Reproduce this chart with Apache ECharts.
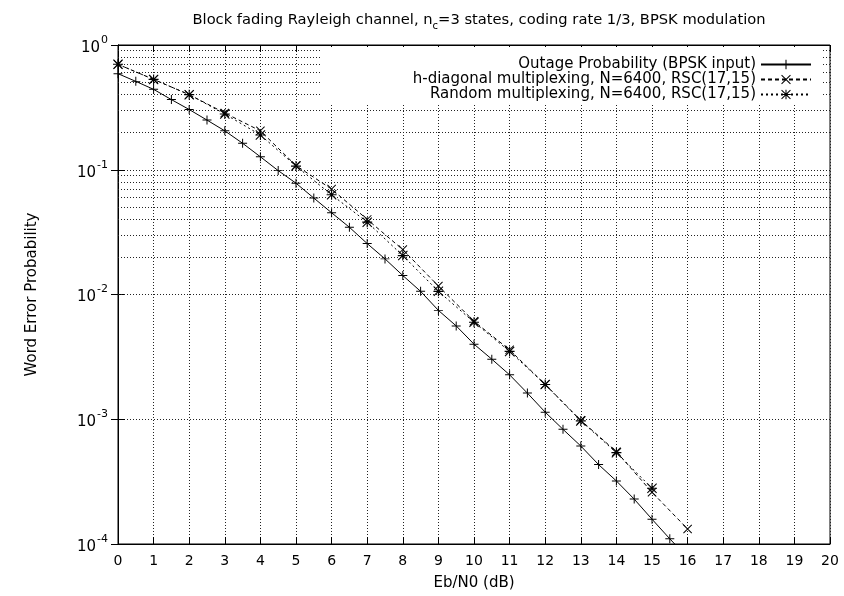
<!DOCTYPE html>
<html>
<head>
<meta charset="utf-8">
<script src="https://cdn.jsdelivr.net/npm/echarts@6/dist/echarts.min.js"></script>
<style>html,body{margin:0;padding:0;background:#fff}#c{width:844px;height:596px}</style>
</head>
<body>
<div id="c"></div>
<script>
// ---- data ----
var outageX = [0,0.5,1,1.5,2,2.5,3,3.5,4,4.5,5,5.5,6,6.5,7,7.5,8,8.5,9,9.5,10,10.5,11,11.5,12,12.5,13,13.5,14,14.5,15,15.5,16];
var outageY = [0.589,0.511,0.441,0.365,0.304,0.250,0.205,0.163,0.127,0.0984,0.078,0.0593,0.0452,0.0346,0.0256,0.0193,0.0142,0.0106,0.00746,0.0056,0.0040,0.00303,0.00227,0.00162,0.00114,0.00083,0.00061,0.000433,0.00032,0.000229,0.000158,0.00011,0.000078];
var hdiagX = [0,1,2,3,4,5,6,7,8,9,10,11,12,13,14,15,16];
var hdiagY = [0.70,0.53,0.40,0.285,0.205,0.108,0.070,0.040,0.0229,0.0117,0.0061,0.0036,0.0019,0.00098,0.00055,0.00026,0.000132];
var randX = [0,1,2,3,4,5,6,7,8,9,10,11,12,13,14,15];
var randY = [0.70,0.53,0.40,0.28,0.19,0.107,0.063,0.038,0.0205,0.0106,0.0060,0.0035,0.0019,0.00097,0.00054,0.00028];
var seriesNames = ['Outage Probability (BPSK input)','h-diagonal multiplexing, N=6400, RSC(17,15)','Random multiplexing, N=6400, RSC(17,15)'];
var decades = [0.0001,0.001,0.01,0.1];
var mantissas = [2,3,4,5,6,7,8,9];
var xTitle = 'Eb/N0 (dB)';
var yTitle = 'Word Error Probability';

function pairs(xs, ys){ return xs.map(function(x,i){ return [x, ys[i]]; }); }
var minorLines = [];
decades.forEach(function(d){ mantissas.forEach(function(m){ minorLines.push({yAxis: +(d*m).toPrecision(3)}); }); });

var FONT = 'DejaVu Sans';
var plusSym = 'path://M0,4.45H10V5.55H0Z M4.45,0H5.55V10H4.45Z';
var crossSym = 'path://M0,0.75L0.75,0L10,9.25L9.25,10Z M9.25,0L10,0.75L0.75,10L0,9.25Z';
var starSym = 'path://M0,4.45H10V5.55H0Z M4.45,0H5.55V10H4.45Z M0,0.75L0.75,0L10,9.25L9.25,10Z M9.25,0L10,0.75L0.75,10L0,9.25Z';
var gridDot = {color:'#222', width:1, type:[1,2]};

var chart = echarts.init(document.getElementById('c'), null, {renderer:'canvas'});
chart.setOption({
  animation:false,
  backgroundColor:'#fff',
  textStyle:{fontFamily:FONT},
  title:{
    text:'{a|Block fading Rayleigh channel, n}{s|c}{a|=3 states, coding rate 1/3, BPSK modulation}',
    left:474, top:8, textAlign:'center',
    textStyle:{
      fontWeight:'normal',
      rich:{
        a:{fontFamily:FONT, fontSize:14.7, fontWeight:'normal', color:'#000', lineHeight:16, verticalAlign:'top'},
        s:{fontFamily:FONT, fontSize:10, fontWeight:'normal', color:'#000', lineHeight:10, padding:[8,0,0,0], verticalAlign:'top'}
      }
    }
  },
  grid:{left:118, right:14, top:45, bottom:50, show:true, borderColor:'#000', borderWidth:1, containLabel:false},
  legend:{
    orient:'vertical', right:23, top:47, align:'right',
    backgroundColor:'#fff', padding:[10,9,1,6],
    itemWidth:50, itemHeight:12, itemGap:0,
    textStyle:{fontFamily:FONT, fontSize:15, color:'#000', lineHeight:15, width:428},
    data:seriesNames
  },
  xAxis:[{
    type:'value', min:0, max:20, interval:1, position:'bottom',
    name:xTitle, nameLocation:'middle', nameGap:32,
    nameTextStyle:{fontFamily:FONT, fontSize:15, color:'#000'},
    axisLine:{show:true, lineStyle:{color:'#000'}},
    axisTick:{show:true, inside:true, length:7, lineStyle:{color:'#000'}},
    axisLabel:{fontFamily:FONT, fontSize:14, color:'#000', margin:10},
    splitLine:{show:true, lineStyle:gridDot}
  },{
    type:'value', min:0, max:20, interval:1, position:'top',
    axisLine:{show:true, lineStyle:{color:'#000'}},
    axisTick:{show:true, inside:true, length:7, lineStyle:{color:'#000'}},
    axisLabel:{show:false}, splitLine:{show:false}
  }],
  yAxis:[{
    type:'log', logBase:10, min:0.0001, max:1, position:'left',
    name:yTitle, nameLocation:'middle', nameGap:78,
    nameTextStyle:{fontFamily:FONT, fontSize:15, color:'#000'},
    axisLine:{show:true, lineStyle:{color:'#000'}},
    axisTick:{show:true, inside:true, length:7, lineStyle:{color:'#000'}},
    axisLabel:{
      margin:10, color:'#000',
      formatter:function(v){ var e = Math.round(Math.log10(v)); return '{b|10}{s|' + (e<0?'-':'') + Math.abs(e) + '}'; },
      rich:{
        b:{fontFamily:FONT, fontSize:15, color:'#000', lineHeight:21, verticalAlign:'bottom'},
        s:{fontFamily:FONT, fontSize:11, color:'#000', lineHeight:11, padding:[0,0,0,1], verticalAlign:'top'}
      }
    },
    splitLine:{show:true, lineStyle:gridDot}
  },{
    type:'log', logBase:10, min:0.0001, max:1, position:'right',
    axisLine:{show:true, lineStyle:{color:'#000'}},
    axisTick:{show:true, inside:true, length:7, lineStyle:{color:'#000'}},
    axisLabel:{show:false}, splitLine:{show:false}
  }],
  series:[{
    name:seriesNames[0], type:'line', data:pairs(outageX, outageY),
    symbol:plusSym, symbolSize:9, showAllSymbol:true,
    lineStyle:{color:'#000', width:1, type:'solid'},
    itemStyle:{color:'#000'},
    z:3,
    markLine:{
      silent:true, symbol:['none','none'], label:{show:false},
      lineStyle:{color:'#222', width:1, type:[1,2]},
      emphasis:{disabled:true},
      data:minorLines, z:1
    }
  },{
    name:seriesNames[1], type:'line', data:pairs(hdiagX, hdiagY),
    symbol:crossSym, symbolSize:9, showAllSymbol:true,
    lineStyle:{color:'#000', width:1, type:[4,3]},
    itemStyle:{color:'#000'}, z:3
  },{
    name:seriesNames[2], type:'line', data:pairs(randX, randY),
    symbol:starSym, symbolSize:10, showAllSymbol:true,
    lineStyle:{color:'#000', width:1, type:[2,3]},
    itemStyle:{color:'#000'}, z:3
  }]
});
</script>
</body>
</html>
